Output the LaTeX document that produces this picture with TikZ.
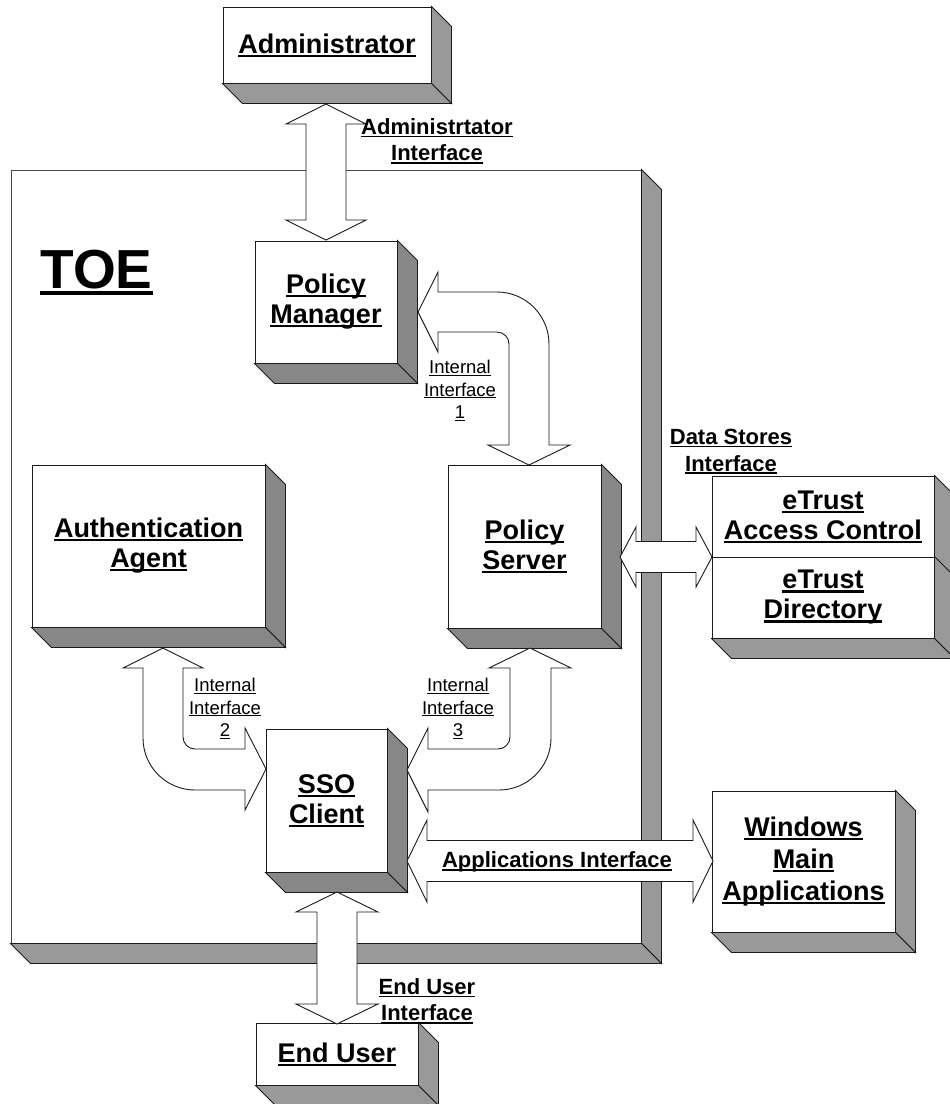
\documentclass[tikz,border=0pt]{standalone}
\usepackage{fontspec}
\setmainfont{Liberation Sans}
\usetikzlibrary{calc}
\definecolor{shA}{HTML}{999999}
\definecolor{shB}{HTML}{878787}
\definecolor{edgec}{HTML}{1A1A1A}
\newcommand\ulb[1]{\leavevmode\setbox0\hbox{#1}\rlap{\rule[-0.13em]{\wd0}{0.075em}}\box0}
\newcommand\ulr[1]{\leavevmode\setbox0\hbox{#1}\rlap{\rule[-0.12em]{\wd0}{0.055em}}\box0}
\newcommand\boxshade[3]{%
  \filldraw[fill=#3,draw=edgec,line width=0.9pt,line join=miter]
    (#1.north east) -- ($(#1.north east)+(#2,#2)$) -- ($(#1.south east)+(#2,#2)$) -- (#1.south east) -- cycle;
  \filldraw[fill=#3,draw=edgec,line width=0.9pt,line join=miter]
    (#1.south west) -- (#1.south east) -- ($(#1.south east)+(#2,#2)$) -- ($(#1.south west)+(#2,#2)$) -- cycle;}
% vertical double block arrow: x, top tip y, bottom tip y, head length, head half width, shaft half width
\newcommand\vdarrow[6]{\draw[blk] (#1,#2) -- ({#1+#5},{#2+#4}) -- ({#1+#6},{#2+#4}) -- ({#1+#6},{#3-#4}) -- ({#1+#5},{#3-#4}) -- (#1,#3) -- ({#1-#5},{#3-#4}) -- ({#1-#6},{#3-#4}) -- ({#1-#6},{#2+#4}) -- ({#1-#5},{#2+#4}) -- cycle;}
% horizontal double block arrow: y, left tip x, right tip x, head length, head half width, shaft half width
\newcommand\hdarrow[6]{\draw[blk] (#2,#1) -- ({#2+#4},{#1-#5}) -- ({#2+#4},{#1-#6}) -- ({#3-#4},{#1-#6}) -- ({#3-#4},{#1-#5}) -- (#3,#1) -- ({#3-#4},{#1+#5}) -- ({#3-#4},{#1+#6}) -- ({#2+#4},{#1+#6}) -- ({#2+#4},{#1+#5}) -- cycle;}
\begin{document}
\begin{tikzpicture}[x=1pt,y=-1pt,
  front/.style={draw=edgec,fill=white,line width=0.9pt,inner sep=0pt,align=center,
    font=\fontsize{27}{30}\selectfont\bfseries},
  blk/.style={draw=edgec,fill=white,line width=0.9pt,line join=miter},
  iflbl/.style={font=\fontsize{22}{26.5}\selectfont\bfseries,align=center,inner sep=0pt},
  intlbl/.style={font=\fontsize{18.5}{22.5}\selectfont,align=center,inner sep=0pt}]
\useasboundingbox (0,0) rectangle (950,1104);
\fill[white] (0,0) rectangle (950,1104);

% TOE
\node[front,draw=edgec!80,minimum width=630pt,minimum height=773pt] (toe) at (326,556.5) {};
\boxshade{toe}{20}{shA}
\node[font=\fontsize{55}{60}\selectfont\bfseries,anchor=base,inner sep=0pt] (toelbl) at (96.5,288) {\ulb{TOE}};

% boxes
\node[front,minimum width=208pt,minimum height=76pt] (admin) at (327,45) {\ulb{Administrator}};
\boxshade{admin}{20}{shA}
\node[front,minimum width=142pt,minimum height=122pt] (pm) at (326,302) {\ulb{Policy}\\\ulb{Manager}};
\boxshade{pm}{20}{shB}
\node[front,minimum width=153pt,minimum height=163pt] (ps) at (524.5,546.5) {\ulb{Policy}\\\ulb{Server}};
\boxshade{ps}{20}{shB}
\node[front,minimum width=233pt,minimum height=162pt] (aa) at (148.5,546) {\ulb{Authentication}\\\ulb{Agent}};
\boxshade{aa}{20}{shB}
\node[front,minimum width=121pt,minimum height=143pt] (sso) at (326.5,800.5) {\ulb{SSO}\\\ulb{Client}};
\boxshade{sso}{20}{shB}
\node[front,minimum width=222pt,minimum height=81pt] (etac) at (823,516.5) {\ulb{eTrust}\\\ulb{Access Control}};
\boxshade{etac}{20}{shA}
\node[front,minimum width=222pt,minimum height=81pt] (etdir) at (823,597.5) {\ulb{eTrust}\\\ulb{Directory}};
\boxshade{etdir}{20}{shA}
\node[front,minimum width=183pt,minimum height=141pt,font=\fontsize{27}{32}\selectfont\bfseries] (win) at (803.5,861.5) {\ulb{Windows}\\\ulb{Main}\\\ulb{Applications}};
\boxshade{win}{20}{shA}
\node[front,minimum width=162pt,minimum height=62pt] (eu) at (337,1054) {\ulb{End User}};
\boxshade{eu}{20}{shA}

% block arrows
\vdarrow{326}{104}{240}{20}{40}{20}
\vdarrow{337}{892}{1024}{20}{41}{20}
\hdarrow{861}{407}{713}{20}{41}{20.5}
\hdarrow{557}{620}{712}{16}{30}{15.5}

% Internal Interface 1 (Policy Manager <-> Policy Server)
\draw[blk] (418,312) -- (438,272) -- (438,292) -- (497,292)
  .. controls (525.7,292) and (549,315.3) .. (549,344) -- (549,445) -- (570,445)
  -- (529,465) -- (488,445) -- (509,445) -- (509,344)
  .. controls (509,337.4) and (503.6,332) .. (497,332) -- (438,332) -- (438,352) -- cycle;
% Internal Interface 2 (Authentication Agent <-> SSO Client)
\draw[blk] (163,648) -- (203,668) -- (183,668) -- (183,737)
  .. controls (183,743.6) and (188.4,749) .. (195,749) -- (245,749) -- (245,728)
  -- (266,769) -- (245,810) -- (245,790) -- (195,790)
  .. controls (166.3,790) and (143,766.7) .. (143,738) -- (143,668) -- (123,668) -- cycle;
% Internal Interface 3 (Policy Server <-> SSO Client)
\draw[blk] (530,648) -- (571,668) -- (551,668) -- (551,738)
  .. controls (551,766.7) and (527.7,790) .. (499,790) -- (428,790) -- (428,812)
  -- (407,770) -- (428,728) -- (428,749) -- (498,749)
  .. controls (504.6,749) and (510,743.6) .. (510,737) -- (510,668) -- (489,668) -- cycle;

% labels
\node[iflbl] (lbladm) at (437,141) {\ulb{Administrtator}\\\ulb{Interface}};
\node[intlbl] (lbl1) at (460,390.5) {\ulr{Internal}\\\ulr{Interface}\\\ulr{1}};
\node[intlbl] (lbl2) at (225,708.5) {\ulr{Internal}\\\ulr{Interface}\\\ulr{2}};
\node[intlbl] (lbl3) at (458,708.5) {\ulr{Internal}\\\ulr{Interface}\\\ulr{3}};
\node[iflbl] (lblds) at (731,451.5) {\ulb{Data Stores}\\\ulb{Interface}};
\node[iflbl] (lblapp) at (557,862) {\ulb{Applications Interface}};
\node[iflbl] (lbleu) at (427,1001) {\ulb{End User}\\\ulb{Interface}};
\end{tikzpicture}
\end{document}
